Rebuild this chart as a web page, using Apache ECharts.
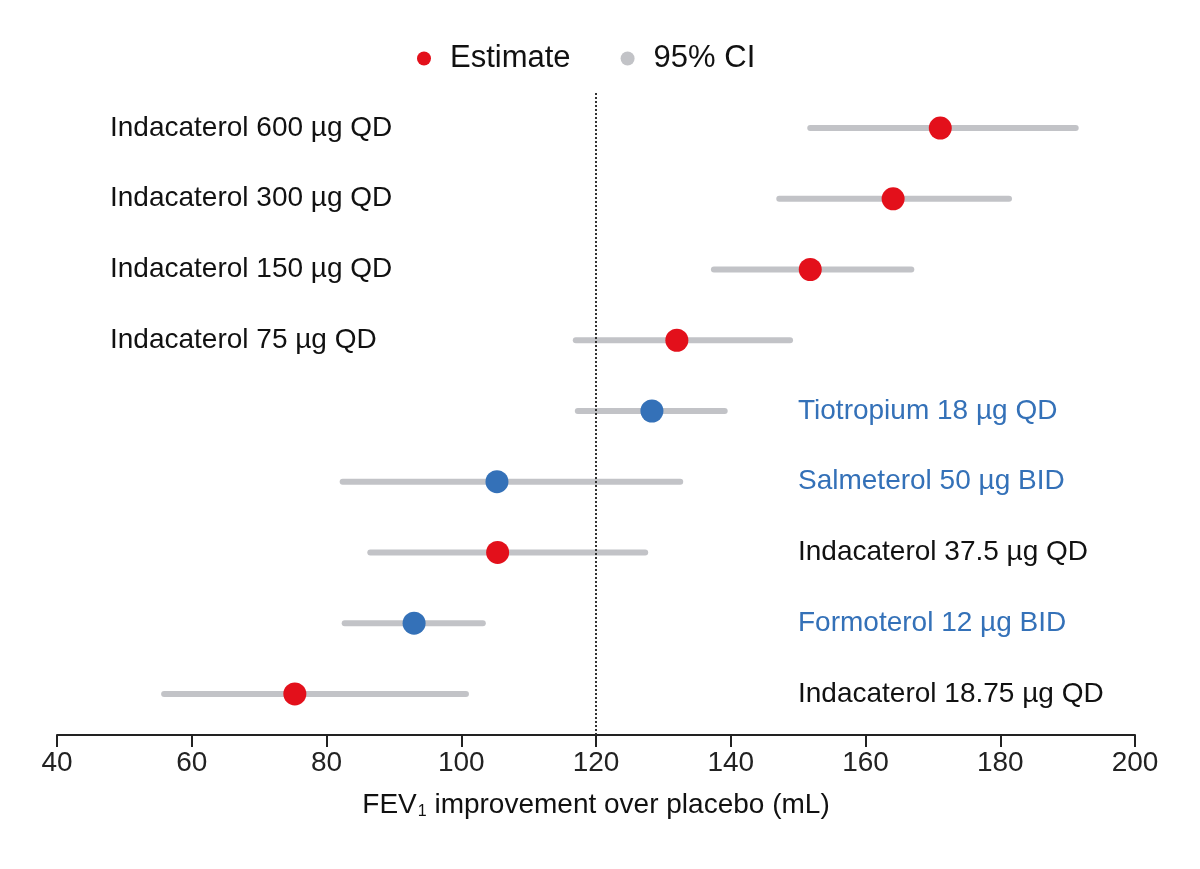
<!DOCTYPE html>
<html>
<head>
<meta charset="utf-8">
<script src="https://cdn.jsdelivr.net/npm/echarts@6/dist/echarts.min.js"></script>
<style>
html,body{margin:0;padding:0;background:#fff;}
#chart{width:1200px;height:869px;}
</style>
</head>
<body>
<div id="chart"></div>
<script>
const categories = [
  'Indacaterol 600 µg QD',
  'Indacaterol 300 µg QD',
  'Indacaterol 150 µg QD',
  'Indacaterol 75 µg QD',
  'Tiotropium 18 µg QD',
  'Salmeterol 50 µg BID',
  'Indacaterol 37.5 µg QD',
  'Formoterol 12 µg BID',
  'Indacaterol 18.75 µg QD'
];
const estimate = [171.1, 164.1, 151.8, 132.0, 128.3, 105.3, 105.4, 93.0, 75.3];
const ciLow    = [151.8, 147.2, 137.5, 117.0, 117.3, 82.4, 86.5, 82.7, 55.9];
const ciHigh   = [191.2, 181.3, 166.8, 148.8, 139.1, 132.5, 127.3, 103.2, 100.7];
const xTicks = [40, 60, 80, 100, 120, 140, 160, 180, 200];
const referenceValue = 120;

const RED = '#e3101b';
const BLUE = '#3471b8';
const GRAY = '#c2c3c7';
const FONT = "'Liberation Sans', Arial, Helvetica, sans-serif";
const leftLabelRows = new Set([0, 1, 2, 3]);

const isIndacaterol = name => name.indexOf('Indacaterol') === 0;

const chart = echarts.init(document.getElementById('chart'), null, {renderer: 'canvas'});

const ciData = categories.map((c, i) => [i, ciLow[i], ciHigh[i]]);
const estData = categories.map((c, i) => ({
  value: [estimate[i], i],
  itemStyle: {color: isIndacaterol(c) ? RED : BLUE, opacity: 1}
}));

const option = {
  backgroundColor: '#fff',
  animation: false,
  textStyle: {fontFamily: FONT},
  legend: {
    top: 38,
    left: 412,
    itemWidth: 14,
    itemHeight: 14,
    itemGap: 50,
    textStyle: {fontSize: 31, color: '#111', fontFamily: FONT, padding: [0, 0, 0, 14]},
    data: [
      {name: 'Estimate', icon: 'circle', itemStyle: {color: RED, opacity: 1}},
      {name: '95% CI', icon: 'circle', itemStyle: {color: GRAY, opacity: 1}}
    ]
  },
  grid: {left: 57, right: 65, top: 93, bottom: 134},
  xAxis: {
    type: 'value',
    min: xTicks[0],
    max: xTicks[xTicks.length - 1],
    interval: 20,
    axisLine: {show: true, onZero: false, lineStyle: {color: '#222', width: 2}},
    axisTick: {show: true, length: 12, lineStyle: {color: '#222', width: 2}},
    axisLabel: {fontSize: 28, color: '#222', margin: 14, fontFamily: FONT},
    splitLine: {show: false},
    name: '{a|FEV}{s|1}{a| improvement over placebo (mL)}',
    nameLocation: 'middle',
    nameGap: 55,
    nameTextStyle: {
      rich: {
        a: {fontSize: 28, color: '#111', fontFamily: FONT},
        s: {fontSize: 16, color: '#111', fontFamily: FONT, verticalAlign: 'bottom', padding: [14, 0, 0, 1]}
      }
    }
  },
  yAxis: {
    type: 'value',
    inverse: true,
    min: -0.495,
    max: 8.58,
    show: false
  },
  series: [
    {
      name: 'ref',
      type: 'scatter',
      data: [],
      z: 1,
      silent: true,
      markLine: {
        silent: true,
        symbol: 'none',
        label: {show: false},
        lineStyle: {type: 'dotted', color: '#333', width: 2},
        data: [{xAxis: referenceValue}]
      }
    },
    {
      name: '95% CI',
      type: 'custom',
      z: 3,
      itemStyle: {color: GRAY},
      encode: {x: [1, 2], y: 0},
      data: ciData,
      renderItem: function (params, api) {
        const idx = api.value(0);
        const p1 = api.coord([api.value(1), idx]);
        const p2 = api.coord([api.value(2), idx]);
        const name = categories[idx];
        const left = leftLabelRows.has(idx);
        return {
          type: 'group',
          children: [
            {
              type: 'line',
              shape: {x1: p1[0], y1: p1[1], x2: p2[0], y2: p2[1]},
              style: {stroke: GRAY, lineWidth: 6, lineCap: 'round'}
            },
            {
              type: 'text',
              style: {
                x: left ? 110 : 798,
                y: p1[1],
                text: name,
                fill: isIndacaterol(name) ? '#111' : BLUE,
                font: '28px ' + FONT,
                textAlign: 'left',
                textVerticalAlign: 'middle'
              }
            }
          ]
        };
      }
    },
    {
      name: 'Estimate',
      type: 'scatter',
      z: 4,
      symbol: 'circle',
      symbolSize: 23,
      itemStyle: {color: RED, opacity: 1},
      data: estData
    }
  ]
};
chart.setOption(option);
</script>
</body>
</html>
